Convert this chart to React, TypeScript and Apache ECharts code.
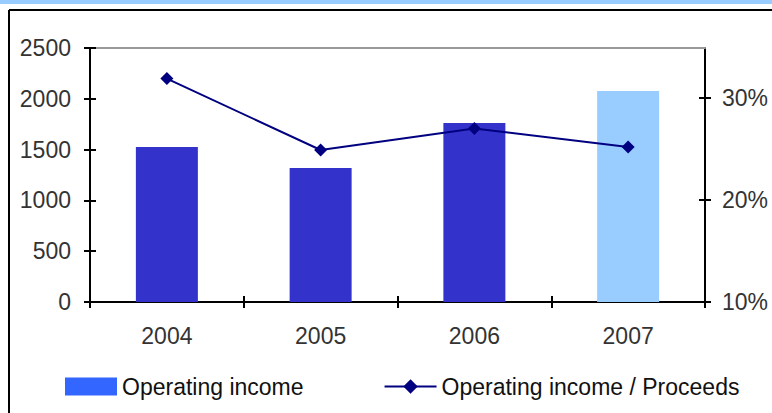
import React, { useEffect, useRef } from "react";
import * as echarts from "echarts";

const categories = ["2004", "2005", "2006", "2007"];
const operatingIncome = [1525, 1320, 1762, 2077];
const incomeRatio = [31.9, 24.9, 27.0, 25.2];
const leftTicks = [0, 500, 1000, 1500, 2000, 2500];
const rightTicks = [10, 20, 30];
const barColors = ["#3333CC", "#3333CC", "#3333CC", "#99CCFF"];

const FONT = "Liberation Sans, Arial, sans-serif";
const FS = 23;

export default function App() {
  const ref = useRef<HTMLDivElement>(null);
  useEffect(() => {
    if (!ref.current) return;
    const chart = echarts.init(ref.current, undefined, { renderer: "svg" });
    const baseY = {
      type: "value" as const,
      min: 0,
      max: 2500,
      interval: 500,
      splitLine: { show: false },
    };
    const baseR = {
      type: "value" as const,
      min: 10,
      max: 34.9,
      splitLine: { show: false },
    };
    chart.setOption({
      animation: false,
      textStyle: { fontFamily: FONT },
      grid: { left: 90, right: 67, top: 48, bottom: 111, containLabel: false },
      legend: {
        left: 60,
        top: 370,
        itemWidth: 52,
        itemHeight: 18,
        itemGap: 80,
        textStyle: { fontSize: FS, color: "#111", fontFamily: FONT },
        data: [
          { name: "Operating income", icon: "rect", itemStyle: { color: "#3366FF" } },
          { name: "Operating income / Proceeds" },
        ],
      },
      graphic: [
        { type: "rect", shape: { x: 0, y: 0, width: 772, height: 4 }, style: { fill: "#99CCFF" } },
        { type: "line", shape: { x1: 9, y1: 10, x2: 772, y2: 10 }, style: { stroke: "#000", lineWidth: 2 } },
        { type: "line", shape: { x1: 9, y1: 10, x2: 9, y2: 413 }, style: { stroke: "#000", lineWidth: 2 } },
      ],
      xAxis: [
        {
          type: "category",
          data: categories,
          position: "bottom",
          axisLine: { lineStyle: { color: "#000", width: 2 } },
          axisTick: { show: true, inside: false, length: 6, lineStyle: { color: "#000", width: 2 } },
          axisLabel: { fontSize: FS, color: "#333", margin: 22, fontFamily: FONT },
        },
        {
          type: "category",
          data: categories,
          position: "bottom",
          axisLine: { show: false },
          axisTick: { show: true, inside: true, length: 6, lineStyle: { color: "#000", width: 2 } },
          axisLabel: { show: false },
        },
        {
          type: "category",
          data: categories,
          position: "top",
          axisLine: { lineStyle: { color: "#999", width: 2 } },
          axisTick: { show: false },
          axisLabel: { show: false },
        },
      ],
      yAxis: [
        {
          ...baseY,
          position: "left",
          axisLine: { show: true, lineStyle: { color: "#000", width: 2 } },
          axisTick: { show: true, inside: false, length: 6, lineStyle: { color: "#000", width: 2 }, customValues: leftTicks },
          axisLabel: {
            fontSize: FS,
            color: "#333",
            margin: 19,
            fontFamily: FONT,
            customValues: leftTicks,
            formatter: (v: number) => String(Math.round(v)),
          },
        },
        {
          ...baseR,
          position: "right",
          axisLine: { show: true, lineStyle: { color: "#000", width: 2 } },
          axisTick: { show: true, inside: false, length: 6, lineStyle: { color: "#000", width: 2 }, customValues: rightTicks },
          axisLabel: {
            fontSize: FS,
            color: "#333",
            margin: 17,
            fontFamily: FONT,
            customValues: rightTicks,
            formatter: (v: number) => `${Math.round(v)}%`,
          },
        },
        {
          ...baseY,
          position: "left",
          axisLine: { show: false },
          axisTick: { show: true, inside: true, length: 6, lineStyle: { color: "#000", width: 2 }, customValues: leftTicks },
          axisLabel: { show: false },
        },
        {
          ...baseR,
          position: "right",
          axisLine: { show: false },
          axisTick: { show: true, inside: true, length: 6, lineStyle: { color: "#000", width: 2 }, customValues: rightTicks },
          axisLabel: { show: false },
        },
      ],
      series: [
        {
          name: "Operating income",
          type: "bar",
          barWidth: 62,
          data: operatingIncome.map((v, i) => ({ value: v, itemStyle: { color: barColors[i] } })),
          itemStyle: { color: "#3333CC" },
        },
        {
          name: "Operating income / Proceeds",
          type: "line",
          yAxisIndex: 1,
          data: incomeRatio,
          symbol: "diamond",
          symbolSize: 13,
          lineStyle: { color: "#000080", width: 2 },
          itemStyle: { color: "#000080" },
        },
      ],
    });
    return () => chart.dispose();
  }, []);
  return (
    <div
      ref={ref}
      style={{ position: "fixed", left: 0, top: 0, width: 772, height: 413, background: "#fff" }}
    />
  );
}
